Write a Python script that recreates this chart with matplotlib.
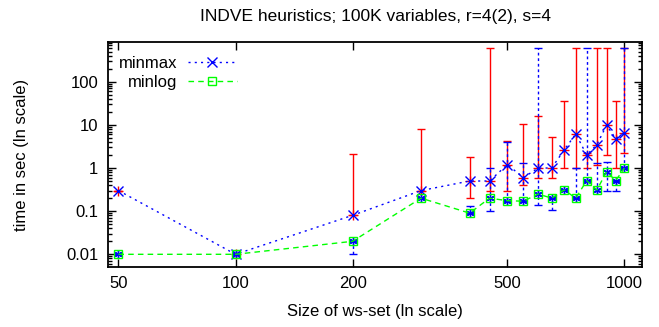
import numpy as np
import matplotlib.pyplot as plt
from matplotlib.ticker import FixedLocator, FixedFormatter, LogLocator, NullFormatter, NullLocator

plt.rcParams['font.family'] = ['Liberation Sans', 'DejaVu Sans']

#=============================================================================#
#                       values                         #
#=============================================================================#
ws_size = [50, 100, 200, 300, 400, 450, 500, 550, 600, 650, 700, 750, 800, 850, 900, 950, 1000]

# minmax heuristic (blue x) + its min/max range (red bars)
minmax     = [0.3, 0.01, 0.08, 0.3, 0.5, 0.5, 1.2, 0.6, 1.0, 1.0, 2.6, 6.2, 2.0, 3.5, 9.8, 4.8, 6.6]
minmax_lo  = [0.3, 0.01, 0.08, 0.3, 0.2, 0.3, 0.3, 0.4, 0.6, 0.6, 1.0, 1.0, 1.0, 1.2, 2.0, 1.0, 2.2]
minmax_hi  = [0.3, 0.01, 2.1, 8.1, 1.8, 600, 4.2, 10.4, 16, 5.3, 35.7, 600, 2.2, 600, 600, 35.7, 600]

# minlog heuristic (green squares) + its min/max range (blue dashed bars)
minlog     = [0.01, 0.01, 0.02, 0.2, 0.09, 0.2, 0.175, 0.17, 0.25, 0.2, 0.31, 0.2, 0.51, 0.31, 0.82, 0.51, 1.0]
minlog_lo  = [0.01, 0.01, 0.01, 0.2, 0.09, 0.1, 0.175, 0.17, 0.14, 0.105, 0.31, 0.2, 0.51, 0.3, 0.3, 0.3, 1.0]
minlog_hi  = [0.01, 0.01, 0.02, 0.2, 0.13, 1.0, 4.0, 1.33, 600, 0.2, 0.31, 1.0, 600, 1.3, 1.4, 0.51, 600]

x_ticks = [50, 100, 200, 500, 1000]
y_ticks = [0.01, 0.1, 1, 10, 100]
y_tick_labels = ['0.01', '0.1', '1', '10', '100']

mm = np.array(minmax)
ml = np.array(minlog)

#=============================================================================#
#                                   plot                                      #
#=============================================================================#
fig = plt.figure(figsize=(6.59, 3.27), dpi=100)
ax = fig.add_axes([0.1639, 0.1844, 0.8103, 0.6862])

eb1 = ax.errorbar(ws_size, minmax, yerr=[mm - np.array(minmax_lo), np.array(minmax_hi) - mm],
                  fmt='+', color='#ff0000', ecolor='#ff0000', elinewidth=1.0, capsize=3.2,
                  capthick=1.0, markersize=7, markeredgewidth=1.0, zorder=2)
eb2 = ax.errorbar(ws_size, minlog, yerr=[ml - np.array(minlog_lo), np.array(minlog_hi) - ml],
                  fmt='none', ecolor='#0000ff', elinewidth=1.0, capsize=3.2,
                  capthick=1.0, zorder=3)
eb2[2][0].set_linestyle((0, (2, 2)))
ax.plot(ws_size, minlog, linestyle='none', marker=(6, 2, 0), color='#0000ff',
        markersize=6, markeredgewidth=1.0, zorder=3)

ax.plot(ws_size, minmax, color='#0000ff', linestyle=(0, (1.5, 3)), linewidth=1.0,
        marker='x', markersize=7, markeredgewidth=1.0, label='minmax', zorder=4)
ax.plot(ws_size, minlog, color='#00ff00', linestyle=(0, (4, 3)), linewidth=1.0,
        marker='s', markersize=6, markerfacecolor='none', markeredgewidth=1.0,
        label='minlog', zorder=4)

ax.set_xscale('log')
ax.set_yscale('log')
ax.set_xlim(47, 1110)
ax.set_ylim(0.00516, 819)

ax.xaxis.set_major_locator(FixedLocator(x_ticks))
ax.xaxis.set_major_formatter(FixedFormatter([str(v) for v in x_ticks]))
ax.xaxis.set_minor_locator(NullLocator())
ax.yaxis.set_major_locator(FixedLocator(y_ticks))
ax.yaxis.set_major_formatter(FixedFormatter(y_tick_labels))
ax.yaxis.set_minor_locator(LogLocator(base=10, subs=np.arange(2, 10)))
ax.yaxis.set_minor_formatter(NullFormatter())

ax.tick_params(which='both', direction='in', top=True, right=True, labelsize=12, width=1.0)
ax.tick_params(which='major', length=6, pad=7)
ax.tick_params(which='minor', length=3)
for s in ax.spines.values():
    s.set_linewidth(1.3)

ax.set_title('INDVE heuristics; 100K variables, r=4(2), s=4', fontsize=12.5, pad=15)
ax.set_xlabel('Size of ws-set (ln scale)', fontsize=12, labelpad=9)
ax.set_ylabel('time in sec (ln scale)', fontsize=12, labelpad=27)

ax.legend(loc='upper left', bbox_to_anchor=(0.02, 0.94), frameon=False, markerfirst=False,
          fontsize=12, handlelength=2.9, borderaxespad=0, borderpad=0, labelspacing=0.25,
          handletextpad=0.66)

plt.savefig('out.png', dpi=100)
